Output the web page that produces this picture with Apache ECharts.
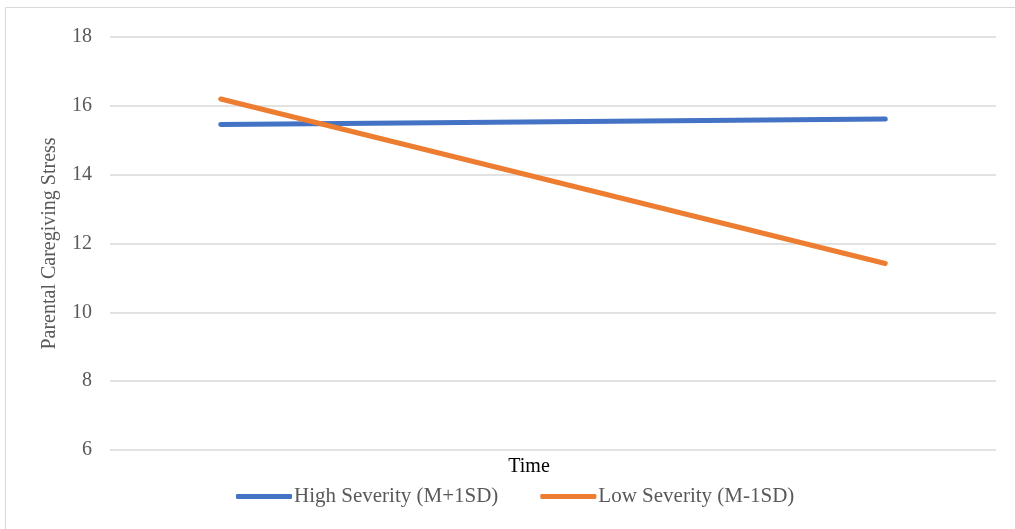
<!DOCTYPE html>
<html>
<head>
<meta charset="utf-8">
<script src="https://cdn.jsdelivr.net/npm/echarts@6/dist/echarts.min.js"></script>
<style>
  html, body { margin: 0; padding: 0; background: #fff; }
  #chart { width: 1015px; height: 529px; }
</style>
</head>
<body>
<div id="chart"></div>
<script>
// time points (two measurement occasions, placed like Excel's 4-slot axis)
const timePoints = [1, 4]
const seriesNames = ['High Severity (M+1SD)', 'Low Severity (M-1SD)']
const highSeverity = [15.46, 15.62]
const lowSeverity = [16.2, 11.42]
const colors = ['#4472C4', '#ED7D31']

const font = '"Liberation Serif", "Times New Roman", serif'

const chart = echarts.init(document.getElementById('chart'))
chart.setOption({
  animation: false,
  color: colors,
  textStyle: { fontFamily: font },
  graphic: [
    {
      type: 'rect',
      shape: { x: 5.5, y: 7.5, width: 1100, height: 600 },
      style: { fill: 'none', stroke: '#d9d9d9', lineWidth: 1 },
      silent: true
    },
    {
      type: 'text',
      x: 529,
      y: 467,
      style: { text: 'Time', font: '20px ' + font, fill: '#000', textAlign: 'center', textVerticalAlign: 'middle' }
    }
  ],
  grid: { left: 110, right: 19, top: 37, bottom: 79 },
  legend: {
    bottom: 17,
    left: 231,
    itemWidth: 56,
    itemHeight: 5,
    itemGap: 42,
    icon: 'roundRect',
    textStyle: { fontFamily: font, fontSize: 21, color: '#595959', padding: [0, 0, 0, -3] },
    data: seriesNames
  },
  xAxis: {
    type: 'value',
    min: 0.5,
    max: 4.5,
    axisLine: { show: false },
    axisTick: { show: false },
    axisLabel: { show: false },
    splitLine: { show: false }
  },
  yAxis: {
    type: 'value',
    min: 6,
    max: 18,
    interval: 2,
    name: 'Parental Caregiving Stress',
    nameLocation: 'middle',
    nameGap: 50,
    nameTextStyle: { fontFamily: font, fontSize: 20, color: '#595959' },
    axisLine: { show: false },
    axisTick: { show: false },
    axisLabel: { fontFamily: font, fontSize: 20, color: '#595959', margin: 18 },
    splitLine: { lineStyle: { color: '#d9d9d9', width: 1.5 } }
  },
  series: [
    {
      name: seriesNames[0],
      type: 'line',
      data: timePoints.map((t, i) => [t, highSeverity[i]]),
      showSymbol: false,
      lineStyle: { width: 5, cap: 'round' }
    },
    {
      name: seriesNames[1],
      type: 'line',
      data: timePoints.map((t, i) => [t, lowSeverity[i]]),
      showSymbol: false,
      lineStyle: { width: 5, cap: 'round' }
    }
  ]
})
</script>
</body>
</html>
